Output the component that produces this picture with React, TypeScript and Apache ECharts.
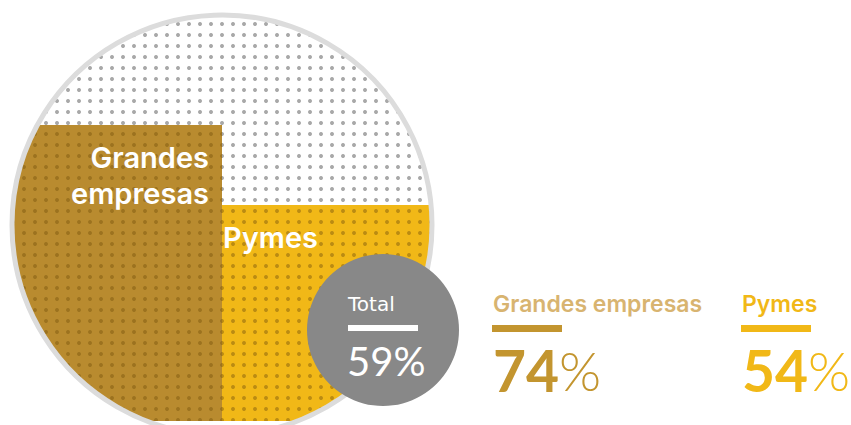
import React, { useEffect, useRef } from "react";
import * as echarts from "echarts";

const categories = ["Grandes empresas", "Pymes"];
const values = [74, 54];
const fullScale = [100, 100];
const insideLabels = ["Grandes\nempresas", "Pymes"];
const totalLabel = "Total";
const totalValue = 59;

const barColors = ["#B98B2F", "#F1B817"];
const headColors = ["#D8B470", "#F1B817"];
const valueColors = ["#C3952F", "#F1B817"];

export default function App() {
  const ref = useRef<HTMLDivElement>(null);
  useEffect(() => {
    document.body.style.margin = "0";
    if (!ref.current) return;
    const chart = echarts.init(ref.current, undefined, { renderer: "svg" });
    const cx = 222;
    const cy = 225;
    const R = 210;
    const dot = (color: string) => ({
      symbol: "circle",
      symbolSize: 1,
      color,
      dashArrayX: [3.2, 6.3],
      dashArrayY: [3.2, 6.3],
    });
    const legendX = [493, 742];
    const legend: any[] = [];
    categories.forEach((c, i) => {
      legend.push({
        type: "text",
        z: 30,
        x: legendX[i],
        y: 304,
        style: {
          text: c,
          fill: headColors[i],
          font: "600 23px Inter",
          textVerticalAlign: "middle",
        },
      });
      legend.push({
        type: "rect",
        z: 30,
        shape: { x: legendX[i] - 1, y: 325, width: 70, height: 7 },
        style: { fill: valueColors[i] },
      });
      legend.push({
        type: "text",
        z: 30,
        x: legendX[i],
        y: 370,
        style: {
          text: `{n|${values[i]}}{p|%}`,
          fill: valueColors[i],
          textVerticalAlign: "middle",
          rich: {
            n: { font: "bold 57px Lato", fill: valueColors[i] },
            p: { font: "300 54px Lato", fill: valueColors[i] },
          },
        },
      });
    });
    chart.setOption({
      animation: false,
      grid: { left: 12, right: 851 - 432, top: 21, bottom: 4 },
      xAxis: { type: "category", data: categories, show: false },
      yAxis: { type: "value", min: 0, max: 100, show: false },
      series: [
        {
          type: "bar",
          data: fullScale,
          barWidth: "100%",
          barGap: "-100%",
          silent: true,
          z: 1,
          itemStyle: { color: "#ffffff", decal: dot("#a8a8a8") },
        },
        {
          type: "bar",
          barWidth: "100%",
          barGap: "-100%",
          z: 2,
          data: values.map((v, i) => ({
            value: v,
            itemStyle: { color: barColors[i], decal: dot("rgba(120,85,10,0.45)") },
            label: {
              show: true,
              formatter: insideLabels[i],
              position: i === 0 ? "insideTopRight" : "insideTopLeft",
              distance: 0,
              offset: i === 0 ? [-13, 14] : [1, 14],
              color: "#ffffff",
              fontFamily: "Inter",
              fontWeight: 600,
              fontSize: 29,
              lineHeight: 36,
              align: i === 0 ? "right" : "left",
            },
          })),
        },
      ],
      graphic: [
        {
          type: "ring",
          z: 10,
          silent: true,
          shape: { cx, cy, r: 1400, r0: R - 1 },
          style: { fill: "#ffffff" },
        },
        {
          type: "circle",
          z: 11,
          silent: true,
          shape: { cx, cy, r: R },
          style: { fill: "none", stroke: "#dcdcdc", lineWidth: 5 },
        },
        {
          type: "circle",
          z: 20,
          shape: { cx: 383, cy: 330, r: 76 },
          style: { fill: "#888888" },
        },
        {
          type: "text",
          z: 21,
          x: 348,
          y: 304,
          style: {
            text: totalLabel,
            fill: "#ffffff",
            font: "normal 20px 'DejaVu Sans'",
            textVerticalAlign: "middle",
          },
        },
        {
          type: "rect",
          z: 21,
          shape: { x: 348, y: 325, width: 70, height: 6 },
          style: { fill: "#ffffff" },
        },
        {
          type: "text",
          z: 21,
          x: 347,
          y: 361,
          style: {
            text: `${totalValue}%`,
            fill: "#ffffff",
            font: "normal 40px Lato",
            textVerticalAlign: "middle",
          },
        },
        ...legend,
      ],
    });
    return () => chart.dispose();
  }, []);
  return <div ref={ref} style={{ width: 851, height: 425 }} />;
}
